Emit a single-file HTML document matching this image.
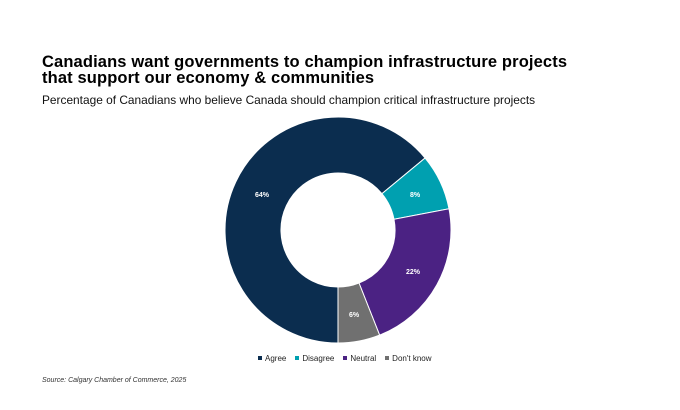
<!DOCTYPE html>
<html><head><style>
body{margin:0;width:680px;height:410px;background:#fff;position:relative;overflow:hidden;font-family:"Liberation Sans",sans-serif}
.t{position:absolute;left:42px;top:54px;font-size:16.5px;font-weight:900;line-height:16px;color:#000;letter-spacing:0.13px;white-space:nowrap}
.s{position:absolute;left:42px;top:93px;font-size:11.9px;color:#111;white-space:nowrap}
.src{position:absolute;left:42px;top:377px;font-size:7px;font-style:italic;color:#333}
.lg{position:absolute;top:354px;left:258px;font-size:8px;color:#222;white-space:nowrap}
.lg span{display:inline-block;width:4px;height:4px;margin:0 3px 1px 0}
.lg i{font-style:normal;margin-right:9px}
</style></head><body>
<div class="t">Canadians want governments to champion infrastructure projects<br>that support our economy &amp; communities</div>
<div class="s">Percentage of Canadians who believe Canada should champion critical infrastructure projects</div>
<svg width="680" height="410" style="position:absolute;left:0;top:0">
<g stroke="#fff" stroke-width="1">
<path d="M338,343 A113,113 0 1 1 425.1,158.0 L381.9,193.7 A57,57 0 1 0 338,287 Z" fill="#0b2d4f"/>
<path d="M425.1,158.0 A113,113 0 0 1 449.0,208.8 L394.0,219.3 A57,57 0 0 0 381.9,193.7 Z" fill="#00a0b0"/>
<path d="M449.0,208.8 A113,113 0 0 1 379.6,335.1 L359.0,283.0 A57,57 0 0 0 394.0,219.3 Z" fill="#4b2283"/>
<path d="M379.6,335.1 A113,113 0 0 1 338,343 L338,287 A57,57 0 0 0 359.0,283.0 Z" fill="#707070"/>
</g>
<g fill="#fff" font-size="7" font-weight="bold" text-anchor="middle" font-family="Liberation Sans,sans-serif">
<text x="262" y="197">64%</text><text x="415" y="197">8%</text><text x="413" y="274">22%</text><text x="354" y="317">6%</text>
</g>
</svg>
<div class="lg"><span style="background:#0b2d4f"></span><i>Agree</i><span style="background:#00a0b0"></span><i>Disagree</i><span style="background:#4b2283"></span><i>Neutral</i><span style="background:#707070"></span><i>Don't know</i></div>
<div class="src">Source: Calgary Chamber of Commerce, 2025</div>
</body></html>
